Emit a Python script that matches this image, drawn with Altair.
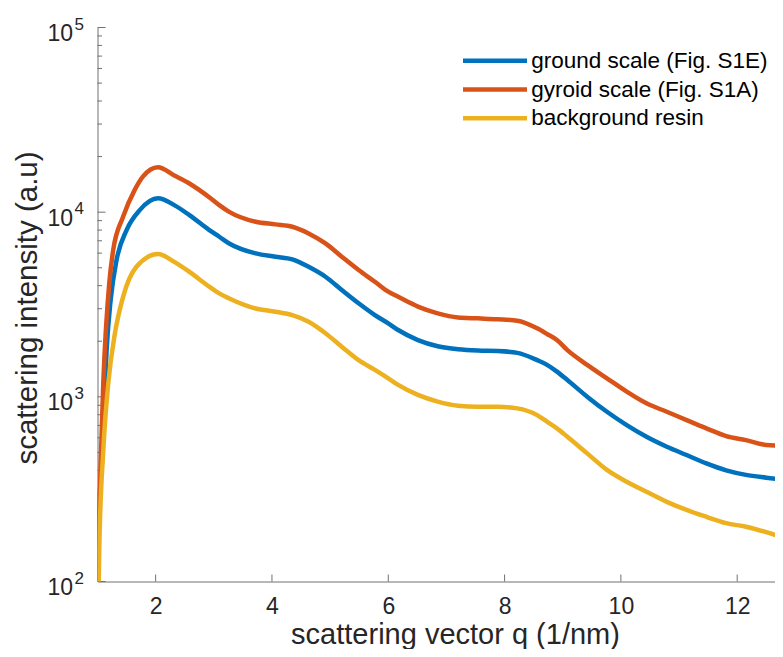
import altair as alt
import pandas as pd

# ---------------- data ----------------
series_names = ["ground scale (Fig. S1E)", "gyroid scale (Fig. S1A)", "background resin"]
series_colors = ["#0072BD", "#D95319", "#EDB120"]

q_ground = [1.0, 1.02, 1.089, 1.157, 1.226, 1.328, 1.5, 1.726, 2.04, 2.32, 2.58, 2.923, 3.094, 3.265,
            3.72, 4.06, 4.35, 4.63, 4.92, 5.2, 5.49, 5.77, 6.0, 6.17, 6.51, 6.85, 7.2, 7.54,
            7.88, 8.22, 8.56, 8.73, 8.9, 9.08, 9.42, 9.76, 10.1, 10.44, 10.79, 11.13, 11.47,
            11.81, 12.15, 12.5, 12.72]
i_ground = [100, 200, 515, 1790, 3340, 5510, 8000, 10260, 11880, 10920, 9640, 8000, 7360, 6770,
            5980, 5740, 5550, 5060, 4470, 3790, 3210, 2770, 2500, 2300, 2030, 1880, 1810, 1780,
            1770, 1730, 1580, 1490, 1370, 1233, 1002, 830, 703, 608, 537, 484, 436,
            400, 378, 365, 358]

q_gyroid = [1.0, 1.014, 1.043, 1.099, 1.202, 1.27, 1.44, 1.64, 1.78, 2.04, 2.32, 2.58, 2.95, 3.094,
            3.265, 3.72, 4.06, 4.35, 4.63, 4.92, 5.2, 5.49, 5.77, 6.0, 6.17, 6.51, 6.85, 7.2,
            7.54, 7.88, 8.22, 8.56, 8.73, 8.9, 9.08, 9.42, 9.76, 10.1, 10.44, 10.79, 11.13,
            11.47, 11.81, 12.15, 12.5, 12.72]
i_gyroid = [100, 224, 340, 1183, 4120, 6240, 9440, 13200, 15560, 17500, 15800, 14300, 11860, 10920,
            10040, 8870, 8590, 8340, 7670, 6770, 5740, 4860, 4200, 3710, 3480, 3080, 2830, 2690,
            2660, 2630, 2585, 2350, 2190, 2030, 1790, 1490, 1260, 1067, 922, 830, 748,
            675, 613, 583, 549, 545]

q_resin = [1.02, 1.03, 1.1, 1.185, 1.3, 1.44, 1.67, 2.04, 2.32, 2.58, 2.923, 3.094, 3.265, 3.72,
           4.06, 4.35, 4.63, 4.92, 5.2, 5.49, 5.77, 6.0, 6.17, 6.51, 6.85, 7.2, 7.54, 7.88,
           8.22, 8.56, 8.73, 8.9, 9.08, 9.42, 9.76, 10.1, 10.44, 10.79, 11.13, 11.47, 11.81,
           12.15, 12.5, 12.72]
i_resin = [95, 148, 515, 1183, 2210, 3480, 5060, 5930, 5380, 4750, 3950, 3630, 3410, 3010,
           2890, 2770, 2550, 2210, 1870, 1580, 1400, 1260, 1160, 1024, 942, 895, 883, 883,
           866, 796, 733, 675, 608, 494, 402, 347, 306, 270, 244, 224, 207,
           198, 185, 176]

x_ticks = [2, 4, 6, 8, 10, 12]
y_major = [100, 1000, 10000, 100000]
y_exponents = ["2", "3", "4", "5"]
y_minor = [m * 10 ** k for k in (2, 3, 4) for m in range(2, 10)]

x_domain = [1, 12.65]
y_domain = [100, 100000]

# ---------------- build tables ----------------
rows = []
for name, qs, vals in zip(series_names, [q_ground, q_gyroid, q_resin], [i_ground, i_gyroid, i_resin]):
    for qv, iv in zip(qs, vals):
        rows.append({"series": name, "q": qv, "I": iv})
df = pd.DataFrame(rows)

xt = pd.DataFrame({"q": x_ticks})
ymaj = pd.DataFrame({"I": y_major, "exp": y_exponents, "base": ["10"] * 4})
ymin = pd.DataFrame({"I": y_minor})

W, H = 677.5, 554
FONT = "Liberation Sans"
AX = "#707070"
TXT = "#262626"

xs = alt.Scale(domain=x_domain, nice=False, zero=False)
ys = alt.Scale(type="log", domain=y_domain, nice=False)

lines = alt.Chart(df).mark_line(strokeWidth=4.5, clip=True, interpolate="monotone").encode(
    x=alt.X("q:Q", scale=xs,
            axis=alt.Axis(values=x_ticks, format="d", ticks=False, tickSize=0, grid=False,
                          labelFontSize=23, labelFont=FONT, labelColor=TXT,
                          labelPadding=14, domainColor=AX, domainWidth=1,
                          title="scattering vector q (1/nm)", titleFont=FONT,
                          titleFontSize=29, titleFontWeight="normal", titleColor=TXT,
                          titleX=357.5, titleY=61.5, titleBaseline="alphabetic",
                          titleAlign="center")),
    y=alt.Y("I:Q", scale=ys,
            axis=alt.Axis(labels=False, ticks=False, tickSize=0, grid=False,
                          domainColor=AX, domainWidth=1,
                          title="scattering intensity (a.u)", titleFont=FONT,
                          titleFontSize=29.5, titleFontWeight="normal", titleColor=TXT,
                          titleX=-61.5, titleY=280, titleAngle=270,
                          titleBaseline="alphabetic", titleAlign="center")),
    color=alt.Color("series:N",
                    scale=alt.Scale(domain=series_names, range=series_colors),
                    legend=alt.Legend(title=None, labelLimit=0)),
    order=alt.Order("q:Q"),
)

xtick_rules = alt.Chart(xt).mark_rule(color=AX, strokeWidth=1).encode(
    x=alt.X("q:Q", scale=xs),
    y=alt.value(H),
    y2=alt.value(H - 7),
)

ymaj_rules = alt.Chart(ymaj).mark_rule(color=AX, strokeWidth=1).encode(
    y=alt.Y("I:Q", scale=ys),
    x=alt.value(0),
    x2=alt.value(8),
)
ymin_rules = alt.Chart(ymin).mark_rule(color=AX, strokeWidth=1).encode(
    y=alt.Y("I:Q", scale=ys),
    x=alt.value(0),
    x2=alt.value(4.5),
)

ybase = alt.Chart(ymaj).mark_text(font=FONT, fontSize=23, color=TXT, align="right",
                                  baseline="alphabetic", dx=-24.5, dy=13.5).encode(
    y=alt.Y("I:Q", scale=ys),
    x=alt.value(0),
    text="base:N",
)
yexp = alt.Chart(ymaj).mark_text(font=FONT, fontSize=17, color=TXT, align="left",
                                 baseline="alphabetic", dx=-23, dy=2).encode(
    y=alt.Y("I:Q", scale=ys),
    x=alt.value(0),
    text="exp:N",
)

chart = alt.layer(xtick_rules, ymaj_rules, ymin_rules, ybase, yexp, lines).properties(
    width=W, height=H,
    autosize=alt.AutoSizeParams(type="none"),
    padding={"left": 89.5, "top": 19.5, "right": 0, "bottom": 67.5},
).configure_view(stroke=None).configure_legend(
    orient="none", legendX=386.25, legendY=22, padding=0,
    symbolType="M-4,0L4,0", symbolSize=256, symbolStrokeWidth=4.5,
    labelFont=FONT, labelFontSize=22.5, labelColor="#000000", labelOffset=25,
    rowPadding=5.8, labelLimit=0,
)

chart.save("out.html", embed_options={"renderer": "svg", "actions": False})
